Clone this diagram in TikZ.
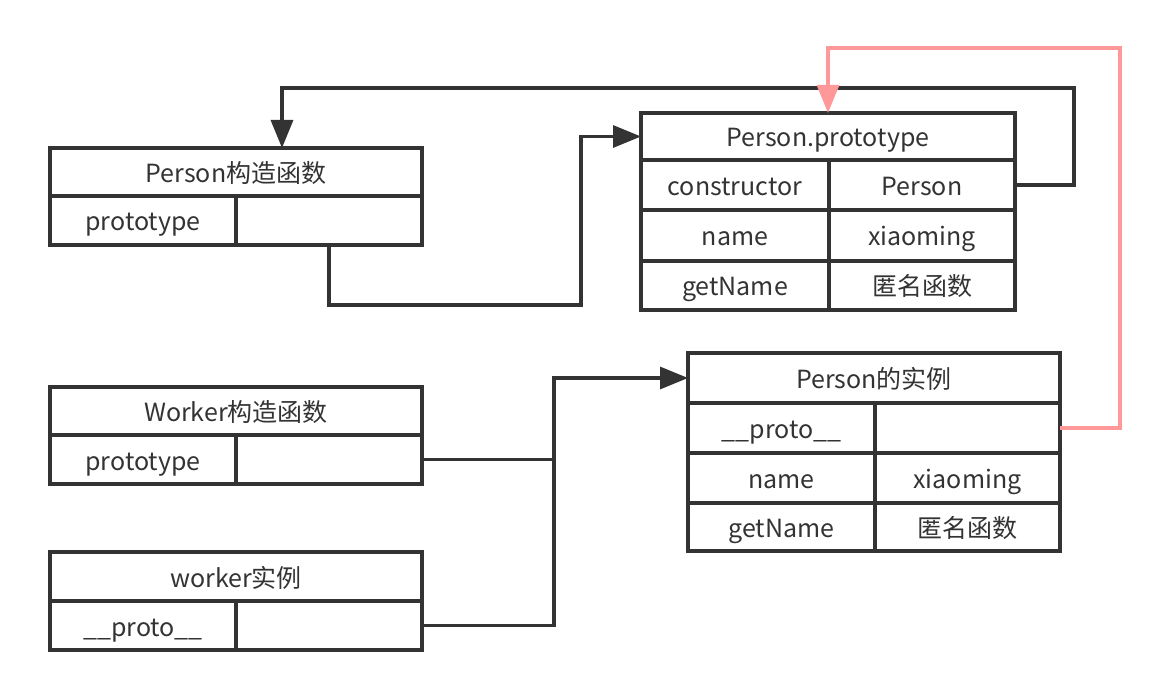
\documentclass[tikz,border=0pt]{standalone}
\usepackage{fontspec}
\setmainfont{Noto Sans CJK SC}
\usetikzlibrary{arrows.meta}
\definecolor{ln}{HTML}{333333}
\definecolor{pk}{HTML}{FF9999}
\tikzset{
  cell/.style={draw=ln, line width=3.3pt, inner sep=0pt, outer sep=0pt, anchor=north west,
    text=ln, font=\fontsize{25}{29}\selectfont, text height=21pt, text depth=0pt},
  conn/.style={draw=ln, line width=3.3pt, -{Triangle[length=28pt,width=22pt]}},
  plain/.style={draw=ln, line width=3.3pt},
  pconn/.style={draw=pk, line width=3.3pt, -{Triangle[length=28pt,width=22pt]}}
}
\begin{document}
\begin{tikzpicture}[x=1pt,y=-1pt]
\useasboundingbox (0,0) rectangle (1170,700);
% Person constructor
\node[cell, minimum width=372pt, minimum height=48pt] (pch) at (50,148) {Person构造函数};
\node[cell, minimum width=186pt, minimum height=49pt] (pck) at (50,196) {prototype};
\node[cell, minimum width=186pt, minimum height=49pt] (pcv) at (236,196) {};
% Person.prototype
\node[cell, minimum width=374pt, minimum height=47pt] (pph) at (641,113) {Person.prototype};
\node[cell, minimum width=188pt, minimum height=50pt] (ppk1) at (641,160) {constructor};
\node[cell, minimum width=186pt, minimum height=50pt] (ppv1) at (829,160) {Person};
\node[cell, minimum width=188pt, minimum height=51pt] (ppk2) at (641,210) {name};
\node[cell, minimum width=186pt, minimum height=51pt] (ppv2) at (829,210) {xiaoming};
\node[cell, minimum width=188pt, minimum height=49pt] (ppk3) at (641,261) {getName};
\node[cell, minimum width=186pt, minimum height=49pt] (ppv3) at (829,261) {匿名函数};
% Worker constructor
\node[cell, minimum width=372pt, minimum height=48pt] (wch) at (50,387) {Worker构造函数};
\node[cell, minimum width=186pt, minimum height=49pt] (wck) at (50,435) {prototype};
\node[cell, minimum width=186pt, minimum height=49pt] (wcv) at (236,435) {};
% worker instance
\node[cell, minimum width=372pt, minimum height=49pt] (wih) at (50,552) {worker实例};
\node[cell, minimum width=186pt, minimum height=49pt] (wik) at (50,601) {\_\_proto\_\_};
\node[cell, minimum width=186pt, minimum height=49pt] (wiv) at (236,601) {};
% Person instance
\node[cell, minimum width=372pt, minimum height=50pt] (pih) at (688,353) {Person的实例};
\node[cell, minimum width=187pt, minimum height=50pt] (pik1) at (688,403) {\_\_proto\_\_};
\node[cell, minimum width=185pt, minimum height=50pt] (piv1) at (875,403) {};
\node[cell, minimum width=187pt, minimum height=50pt] (pik2) at (688,453) {name};
\node[cell, minimum width=185pt, minimum height=50pt] (piv2) at (875,453) {xiaoming};
\node[cell, minimum width=187pt, minimum height=48pt] (pik3) at (688,503) {getName};
\node[cell, minimum width=185pt, minimum height=48pt] (piv3) at (875,503) {匿名函数};
% connectors
\coordinate (c1) at (581,305);
\draw[conn] (pcv.south) |- (c1) |- (pph.west);
\coordinate (c2) at (1074,88);
\coordinate (a2) at (282,148);
\draw[conn] (ppv1.east) -| (c2) -| (a2);
\coordinate (c3) at (1120,48);
\draw[pconn] (piv1.east) -| (c3) -| (pph.north);
\coordinate (j) at (554,378);
\draw[conn] (wcv.east) -| (j) -- (pih.west);
\draw[plain] (wiv.east) -| (j);
\end{tikzpicture}
\end{document}
